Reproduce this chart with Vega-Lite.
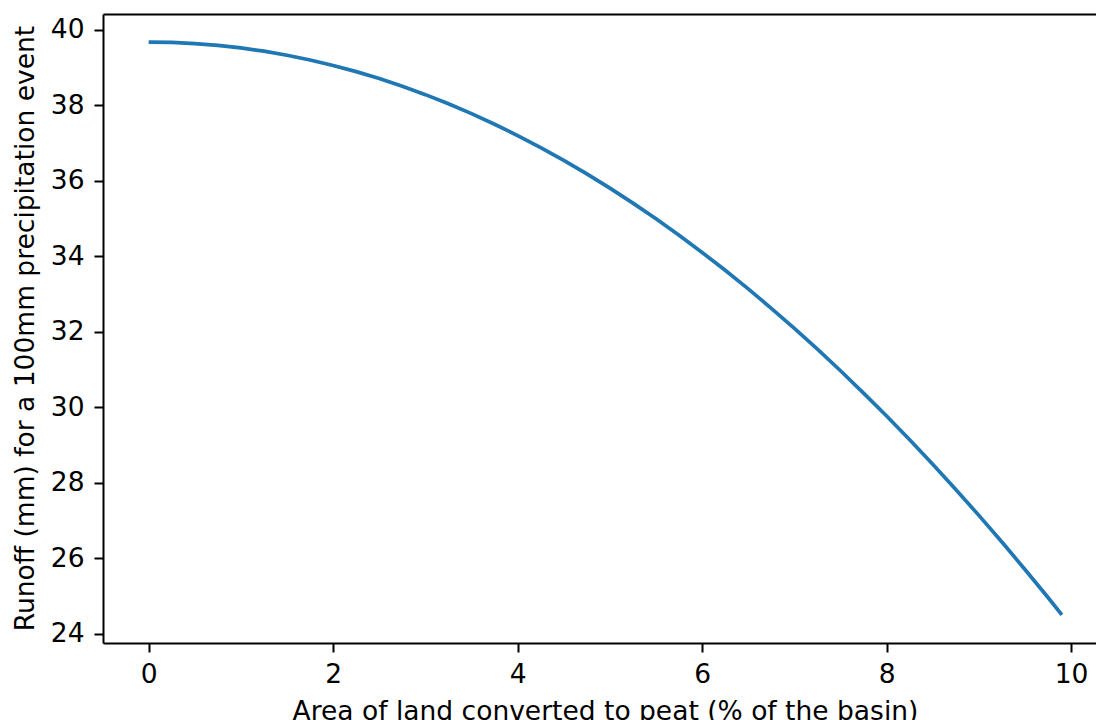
{
  "$schema": "https://vega.github.io/schema/vega-lite/v6.json",
  "autosize": {"type": "none"},
  "padding": {"left": 103, "top": 14, "right": 0, "bottom": 77},
  "width": 993,
  "height": 629,
  "background": "white",
  "config": {
    "view": {"stroke": null},
    "font": "DejaVu Sans",
    "axis": {
      "grid": false,
      "domainColor": "black",
      "domainWidth": 2,
      "tickColor": "black",
      "tickWidth": 2,
      "tickSize": 9,
      "labelFont": "DejaVu Sans",
      "labelFontSize": 26.5,
      "labelColor": "black",
      "titleFont": "DejaVu Sans",
      "titleFontSize": 26.5,
      "titleFontWeight": "normal",
      "titleColor": "black"
    }
  },
  "data": {
    "values": [
      {"area": 0, "runoff": 39.68},
      {"area": 0.25, "runoff": 39.670},
      {"area": 0.5, "runoff": 39.641},
      {"area": 0.75, "runoff": 39.593},
      {"area": 1, "runoff": 39.525},
      {"area": 1.25, "runoff": 39.438},
      {"area": 1.5, "runoff": 39.331},
      {"area": 1.75, "runoff": 39.206},
      {"area": 2, "runoff": 39.060},
      {"area": 2.25, "runoff": 38.896},
      {"area": 2.5, "runoff": 38.712},
      {"area": 2.75, "runoff": 38.509},
      {"area": 3, "runoff": 38.286},
      {"area": 3.25, "runoff": 38.044},
      {"area": 3.5, "runoff": 37.782},
      {"area": 3.75, "runoff": 37.502},
      {"area": 4, "runoff": 37.202},
      {"area": 4.25, "runoff": 36.882},
      {"area": 4.5, "runoff": 36.543},
      {"area": 4.75, "runoff": 36.185},
      {"area": 5, "runoff": 35.808},
      {"area": 5.25, "runoff": 35.411},
      {"area": 5.5, "runoff": 34.994},
      {"area": 5.75, "runoff": 34.559},
      {"area": 6, "runoff": 34.104},
      {"area": 6.25, "runoff": 33.629},
      {"area": 6.5, "runoff": 33.136},
      {"area": 6.75, "runoff": 32.622},
      {"area": 7, "runoff": 32.090},
      {"area": 7.25, "runoff": 31.538},
      {"area": 7.5, "runoff": 30.967},
      {"area": 7.75, "runoff": 30.376},
      {"area": 8, "runoff": 29.766},
      {"area": 8.25, "runoff": 29.137},
      {"area": 8.5, "runoff": 28.489},
      {"area": 8.75, "runoff": 27.820},
      {"area": 9, "runoff": 27.133},
      {"area": 9.25, "runoff": 26.426},
      {"area": 9.5, "runoff": 25.700},
      {"area": 9.75, "runoff": 24.955},
      {"area": 9.9, "runoff": 24.498}
    ]
  },
  "layer": [
    {
      "mark": {"type": "line", "color": "#1f77b4", "strokeWidth": 3.7, "clip": true},
      "encoding": {
        "x": {
          "field": "area",
          "type": "quantitative",
          "scale": {"domain": [-0.495, 10.27], "nice": false, "zero": false},
          "axis": {
            "orient": "bottom",
            "title": "Area of land converted to peat (% of the basin)",
            "values": [0, 2, 4, 6, 8, 10],
            "format": "d",
            "labelPadding": 9,
            "labelFlush": false,
            "labelOverlap": false,
            "titleX": 502,
            "titleY": 76,
            "titleBaseline": "alphabetic",
            "titleAnchor": null
          }
        },
        "y": {
          "field": "runoff",
          "type": "quantitative",
          "scale": {"domain": [23.75, 40.424], "nice": false, "zero": false},
          "axis": {
            "title": "Runoff (mm) for a 100mm precipitation event",
            "values": [24, 26, 28, 30, 32, 34, 36, 38, 40],
            "format": "d",
            "labelPadding": 10,
            "labelFlush": false,
            "labelOverlap": false,
            "titleX": -69.5,
            "titleY": 314,
            "titleAngle": 270,
            "titleAlign": "center",
            "titleBaseline": "alphabetic"
          }
        }
      }
    },
    {
      "mark": {"type": "line", "opacity": 0, "clip": true},
      "encoding": {
        "x": {
          "field": "area",
          "type": "quantitative",
          "scale": {"domain": [-0.495, 10.27], "nice": false, "zero": false},
          "axis": {"orient": "top", "title": null, "labels": false, "ticks": false, "domain": true}
        },
        "y": {"field": "runoff", "type": "quantitative"}
      }
    }
  ],
  "resolve": {"axis": {"x": "independent"}}
}
